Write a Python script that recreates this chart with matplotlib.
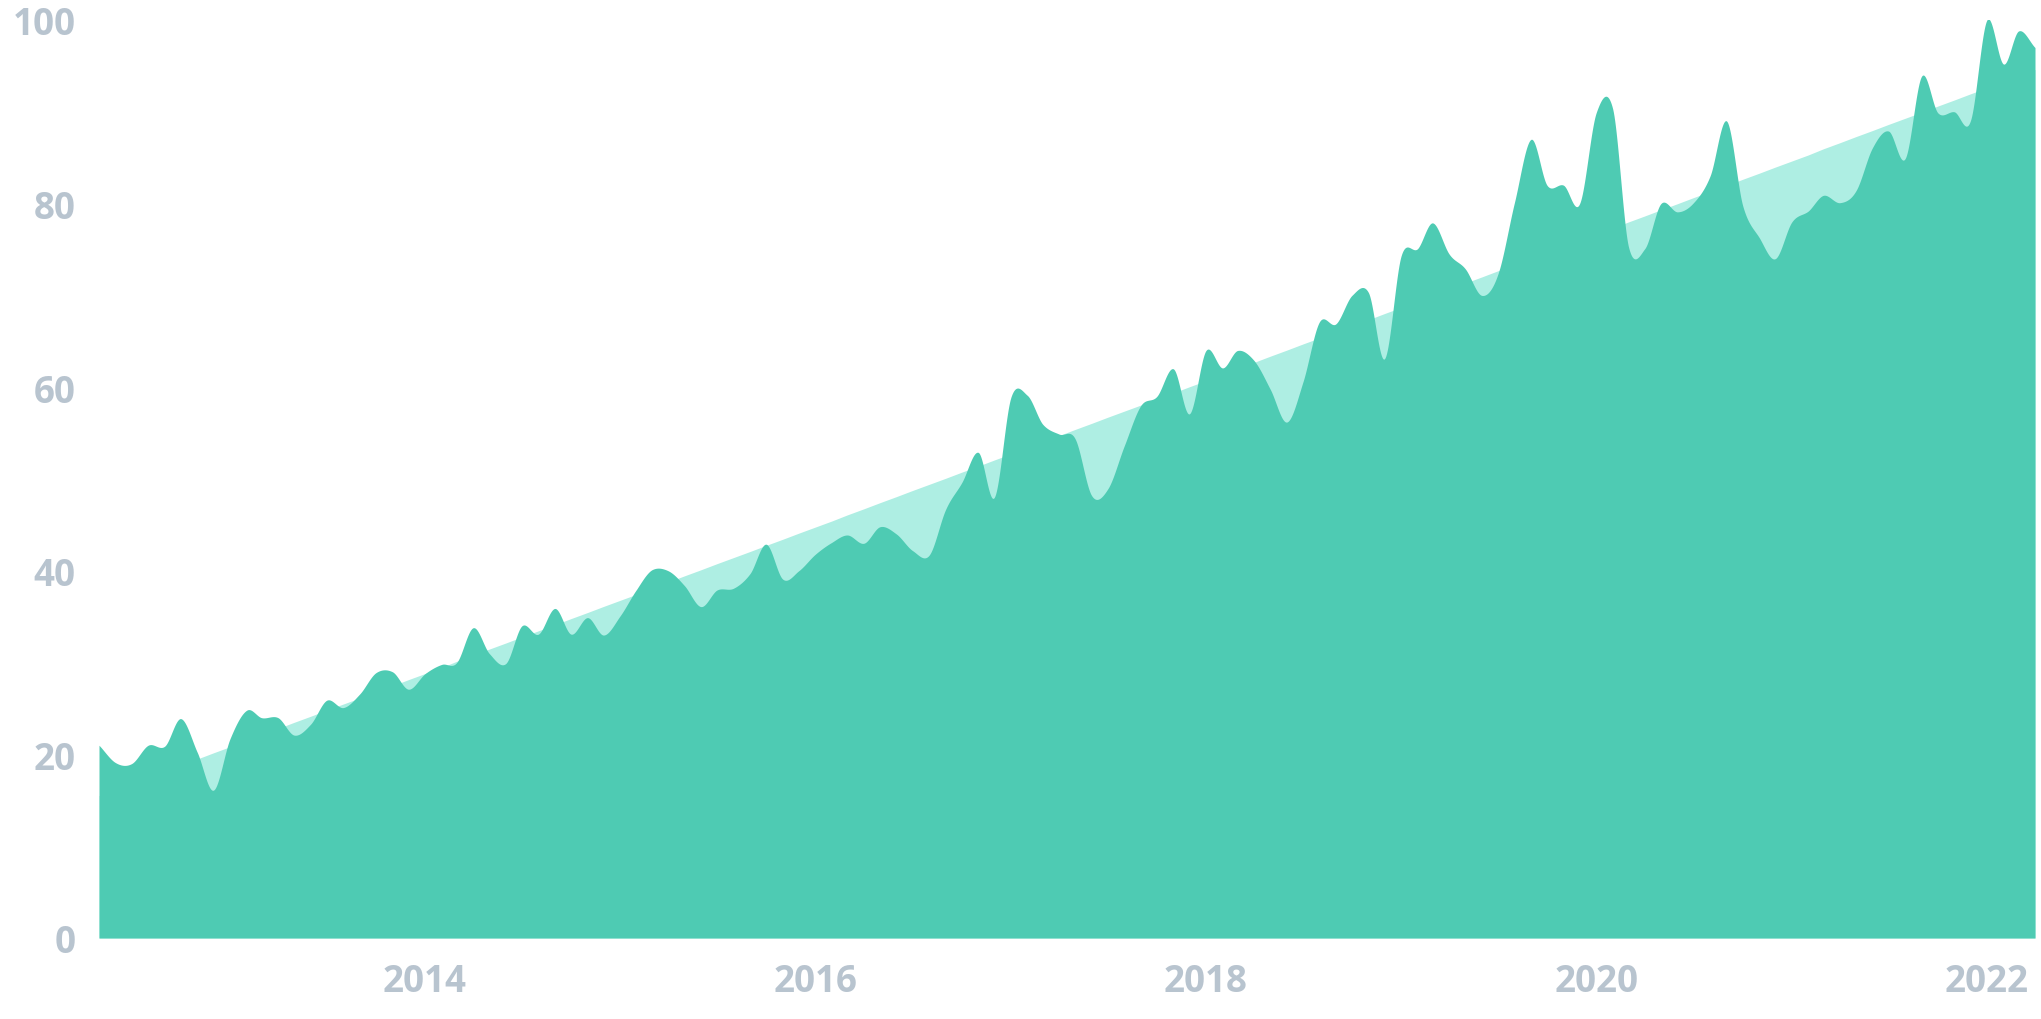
import numpy as np
import pandas as pd
import matplotlib
matplotlib.use("Agg")
import matplotlib.pyplot as plt
import matplotlib.dates as mdates

# ---- data (monthly search interest, May 2012 - Apr 2022) ----
start_month = "2012-05-01"
values = [
    21.0, 19.1, 19.0, 21.0, 20.9, 23.9, 20.2, 16.1, 21.7, 24.8,
    24.0, 24.0, 22.1, 23.3, 25.9, 25.1, 26.6, 28.9, 29.0, 27.1,
    28.8, 29.8, 30.0, 33.8, 31.0, 29.9, 34.0, 33.1, 35.9, 33.1,
    34.9, 33.0, 35.1, 38.0, 40.1, 40.0, 38.4, 36.1, 37.9, 38.1,
    39.7, 42.9, 39.1, 40.0, 41.8, 43.1, 43.9, 43.0, 44.8, 44.0,
    42.2, 41.7, 46.7, 49.6, 52.9, 48.0, 58.9, 59.1, 56.0, 54.9,
    54.4, 48.2, 48.9, 53.6, 58.0, 59.0, 62.0, 57.1, 64.0, 62.1,
    64.0, 62.9, 59.8, 56.2, 60.5, 67.1, 66.9, 70.0, 70.3, 63.1,
    74.3, 75.1, 77.9, 74.5, 72.9, 70.0, 72.3, 80.1, 87.0, 82.0,
    82.0, 80.0, 89.9, 90.3, 75.4, 75.1, 80.0, 79.1, 80.1, 83.0,
    89.0, 79.8, 76.3, 74.0, 78.0, 79.2, 80.9, 80.1, 81.4, 86.1,
    87.9, 84.9, 93.9, 89.9, 90.0, 89.0, 100.0, 95.2, 98.8, 97.0,
]
y_ticks = [0, 20, 40, 60, 80, 100]
x_tick_years = ["2014", "2016", "2018", "2020", "2022"]

months = pd.date_range(start_month, periods=len(values), freq="MS")

# ---- styles ----
MAIN = "#4ECBB3"
TREND = "#AEEEE3"
LABEL = "#B8C4CF"
FONT = "Open Sans"

y = np.asarray(values, dtype=float)
n = len(y)
idx = np.arange(n)
xnum = mdates.date2num(months)

# smooth rendering of the monthly series (Catmull-Rom through the points)
tang = np.empty(n)
tang[1:-1] = (y[2:] - y[:-2]) / 2.0
tang[0] = y[1] - y[0]
tang[-1] = y[-1] - y[-2]
xs, ys = [], []
steps = 24
for i in range(n - 1):
    t = np.linspace(0, 1, steps, endpoint=False)
    h00 = 2 * t**3 - 3 * t**2 + 1
    h10 = t**3 - 2 * t**2 + t
    h01 = -2 * t**3 + 3 * t**2
    h11 = t**3 - t**2
    ys.append(h00 * y[i] + h10 * tang[i] + h01 * y[i + 1] + h11 * tang[i + 1])
    xs.append(xnum[i] + t * (xnum[i + 1] - xnum[i]))
xs.append([xnum[-1]])
ys.append([y[-1]])
xs = np.concatenate(xs)
ys = np.concatenate(ys)

# linear trend of the series
slope, intercept = np.polyfit(idx, y, 1)
trend = intercept + slope * idx

fig = plt.figure(figsize=(20.41, 10.20), dpi=100)
ax = fig.add_axes([99 / 2041, 81 / 1020, (2035 - 99) / 2041, (939 - 21) / 1020])

ax.fill_between(xnum, 0, trend, color=TREND, linewidth=0, zorder=1)
ax.fill_between(xs, 0, ys, color=MAIN, linewidth=0, zorder=2)

ax.set_xlim(xnum[0], xnum[-1])
ax.set_ylim(0, 100)

for s in ax.spines.values():
    s.set_visible(False)

ax.set_yticks(y_ticks)
ax.set_yticklabels([str(v) for v in y_ticks])
ax.set_xticks([mdates.date2num(pd.Timestamp(f"{yr}-01-01")) for yr in x_tick_years])
ax.set_xticklabels(x_tick_years)
ax.tick_params(axis="both", length=0, colors=LABEL, labelsize=26.5)
ax.tick_params(axis="y", pad=17)
ax.tick_params(axis="x", pad=17)
for lab in ax.get_yticklabels() + ax.get_xticklabels():
    lab.set_fontfamily([FONT, "DejaVu Sans"])
    lab.set_fontweight("bold")

fig.savefig("out.png", dpi=100, facecolor="white")
